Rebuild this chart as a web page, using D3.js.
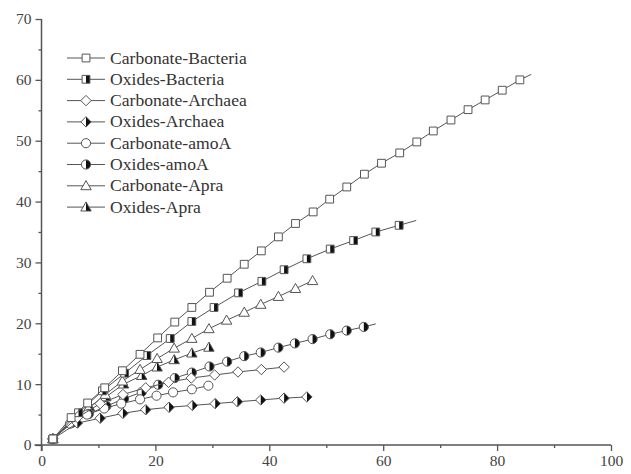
<!DOCTYPE html>
<html>
<head>
<meta charset="utf-8">
<script src="https://cdn.jsdelivr.net/npm/d3@7/dist/d3.min.js"></script>
<style>
  body{margin:0;background:#fff;}
  svg{display:block;}
  .tick text{font-family:"Liberation Serif","Times New Roman",serif;}
</style>
</head>
<body>
<div id="chart"></div>
<script>
// valores (x, y) por série
var carbBactX = [2,5.2,8.1,11.1,14.2,17.3,20.4,23.4,26.4,29.5,32.6,35.6,38.6,41.6,44.6,47.7,50.6,53.6,56.7,59.7,62.9,65.9,68.8,71.9,74.9,77.9,80.9,84.0];
var carbBactY = [1,4.5,6.9,9.4,12.2,14.9,17.6,20.2,22.6,25.1,27.4,29.7,31.9,34.2,36.4,38.3,40.4,42.4,44.5,46.3,48.0,49.8,51.6,53.4,55.1,56.7,58.3,60.0];
var carbBactEnd = [86, 60.9];

var oxBactX = [2,6.5,10.7,14.6,18.5,22.6,26.4,30.3,34.6,38.7,42.6,46.6,50.7,54.8,58.7,62.8];
var oxBactY = [1,5.3,8.9,11.8,14.7,17.5,20.3,22.6,25.0,26.9,28.8,30.6,32.2,33.6,35.0,36.1];
var oxBactEnd = [65.8, 36.9];

var carbArchX = [2,6.3,10.3,14.3,18.3,22.3,26.3,30.4,34.5,38.6,42.6];
var carbArchY = [1,4.5,6.8,8.3,9.4,10.3,11.0,11.5,12.0,12.4,12.8];

var oxArchX = [2,6.3,10.3,14.3,18.3,22.4,26.5,30.5,34.4,38.5,42.6,46.6];
var oxArchY = [1,3.6,4.4,5.2,5.8,6.2,6.5,6.8,7.1,7.4,7.7,7.9];

var carbAmoX = [2,5,8,11,14,17.3,20.2,23.1,26.4,29.3];
var carbAmoY = [1,3.5,5.0,6.0,6.8,7.5,8.1,8.65,9.15,9.75];

var oxAmoX = [2,5.3,8.3,11.4,14.5,17.6,20.5,23.4,26.4,29.5,32.6,35.6,38.5,41.6,44.5,47.6,50.7,53.6,56.6];
var oxAmoY = [1,3.6,5.1,6.4,7.6,8.7,9.9,11.0,11.9,12.9,13.7,14.6,15.2,16.0,16.7,17.4,18.2,18.8,19.4];
var oxAmoEnd = [58.7, 19.9];

var carbApraX = [2,5.2,8.2,11.2,14.2,17.3,20.3,23.3,26.4,29.4,32.5,35.6,38.5,41.6,44.6,47.6];
var carbApraY = [1,3.9,6.0,8.3,10.5,12.4,14.2,15.9,17.5,19.1,20.5,21.8,23.1,24.4,25.7,27.0];

var oxApraX = [2,5.3,8.4,11.3,14.4,17.6,20.3,23.3,26.4,29.4];
var oxApraY = [1,4.0,6.3,7.9,10.0,11.4,12.8,14.0,15.1,16.05];

var seriesNames = ["Carbonate-Bacteria","Oxides-Bacteria","Carbonate-Archaea","Oxides-Archaea",
                   "Carbonate-amoA","Oxides-amoA","Carbonate-Apra","Oxides-Apra"];
var xTicks = [0,20,40,60,80,100];
var yTicks = [0,10,20,30,40,50,60,70];

var width = 631, height = 474;
var margin = {top:19, right:20, bottom:29, left:41.5};
var plotWidth = width - margin.left - margin.right;
var plotHeight = height - margin.top - margin.bottom;

function pts(xa, ya){ return xa.map(function(v,i){ return [v, ya[i]]; }); }

var series = [
    {name:seriesNames[0], pts:pts(carbBactX,carbBactY), end:carbBactEnd, shape:"square",   half:false},
    {name:seriesNames[1], pts:pts(oxBactX,oxBactY),     end:oxBactEnd,   shape:"square",   half:true},
    {name:seriesNames[2], pts:pts(carbArchX,carbArchY), end:null,        shape:"diamond",  half:false},
    {name:seriesNames[3], pts:pts(oxArchX,oxArchY),     end:null,        shape:"diamond",  half:true},
    {name:seriesNames[4], pts:pts(carbAmoX,carbAmoY),   end:null,        shape:"circle",   half:false},
    {name:seriesNames[5], pts:pts(oxAmoX,oxAmoY),       end:oxAmoEnd,    shape:"circle",   half:true},
    {name:seriesNames[6], pts:pts(carbApraX,carbApraY), end:null,        shape:"triangle", half:false},
    {name:seriesNames[7], pts:pts(oxApraX,oxApraY),     end:null,        shape:"triangle", half:true}
];

var shapes = {
    square:   "M-3.9,-3.9H3.9V3.9H-3.9Z",
    diamond:  "M0,-5.2L5.2,0L0,5.2L-5.2,0Z",
    circle:   d3.symbol().type(d3.symbolCircle).size(66)(),
    triangle: "M0,-5.2L5.2,3.9H-5.2Z"
};

var ink = "#555";
var svg = d3.select("#chart").append("svg").attr("width",width).attr("height",height);

// recorte para a metade direita dos marcadores semi-preenchidos
svg.append("defs").append("clipPath").attr("id","rightHalf")
    .append("rect").attr("x",0).attr("y",-8).attr("width",8).attr("height",16);

var xs = d3.scaleLinear().domain([0,100]).range([0,plotWidth]);
var ys = d3.scaleLinear().domain([0,70]).range([plotHeight,0]);

var plotArea = svg.append("g").attr("transform","translate("+margin.left+","+margin.top+")");

// eixos
var xAxis = plotArea.append("g").attr("transform","translate(0,"+plotHeight+")")
    .call(d3.axisBottom(xs).tickValues(xTicks).tickSize(6).tickPadding(4).tickFormat(d3.format("d")));
var xMinor = plotArea.append("g").attr("transform","translate(0,"+plotHeight+")")
    .call(d3.axisBottom(xs).tickValues([10,30,50,70,90]).tickSize(3).tickFormat(""));
var yAxis = plotArea.append("g")
    .call(d3.axisLeft(ys).tickValues(yTicks).tickSize(6).tickPadding(4).tickFormat(d3.format("d")));
var yMinor = plotArea.append("g")
    .call(d3.axisLeft(ys).tickValues([5,15,25,35,45,55,65]).tickSize(3).tickFormat(""));

[xAxis,xMinor,yAxis,yMinor].forEach(function(a){
    a.select(".domain").remove();
    a.selectAll("line").attr("stroke",ink).attr("stroke-width",1.3);
    a.selectAll("text").attr("fill","#444").style("font-size","15.5px");
});
plotArea.append("line").attr("x1",-7).attr("x2",plotWidth).attr("y1",plotHeight).attr("y2",plotHeight)
    .attr("stroke",ink).attr("stroke-width",1.5);
plotArea.append("line").attr("x1",0).attr("x2",0).attr("y1",0).attr("y2",plotHeight+6)
    .attr("stroke",ink).attr("stroke-width",1.5);

function drawMarker(g, s){
    g.append("path").attr("d",shapes[s.shape]).attr("fill","#fff");
    if(s.half)
        g.append("path").attr("d",shapes[s.shape]).attr("fill","#111").attr("clip-path","url(#rightHalf)");
    g.append("path").attr("d",shapes[s.shape]).attr("fill","none").attr("stroke",ink).attr("stroke-width",1);
}

var line = d3.line()
    .x(function(d){ return xs(d[0]); })
    .y(function(d){ return ys(d[1]); });

// desenha de trás para frente para que Carbonate-Bacteria fique por cima
series.slice().reverse().forEach(function(s){
    var all = s.end ? s.pts.concat([s.end]) : s.pts;
    plotArea.append("path").datum(all).attr("d",line)
        .attr("fill","none").attr("stroke",ink).attr("stroke-width",1);
    plotArea.selectAll(null).data(s.pts).enter().append("g")
        .attr("transform",function(d){ return "translate("+xs(d[0])+","+ys(d[1])+")"; })
        .each(function(){ drawMarker(d3.select(this), s); });
});

// legenda
var legend = svg.append("g").attr("transform","translate(67,58)");
series.forEach(function(s,i){
    var row = legend.append("g").attr("transform","translate(0,"+(i*21.3)+")");
    row.append("line").attr("x1",0).attr("x2",38).attr("stroke",ink).attr("stroke-width",1);
    drawMarker(row.append("g").attr("transform","translate(19,0)"), s);
    row.append("text").attr("x",43).attr("y",5.5)
        .style("font-family","'Liberation Serif','Times New Roman',serif")
        .style("font-size","17.6px").attr("fill","#333").text(s.name);
});
</script>
</body>
</html>
